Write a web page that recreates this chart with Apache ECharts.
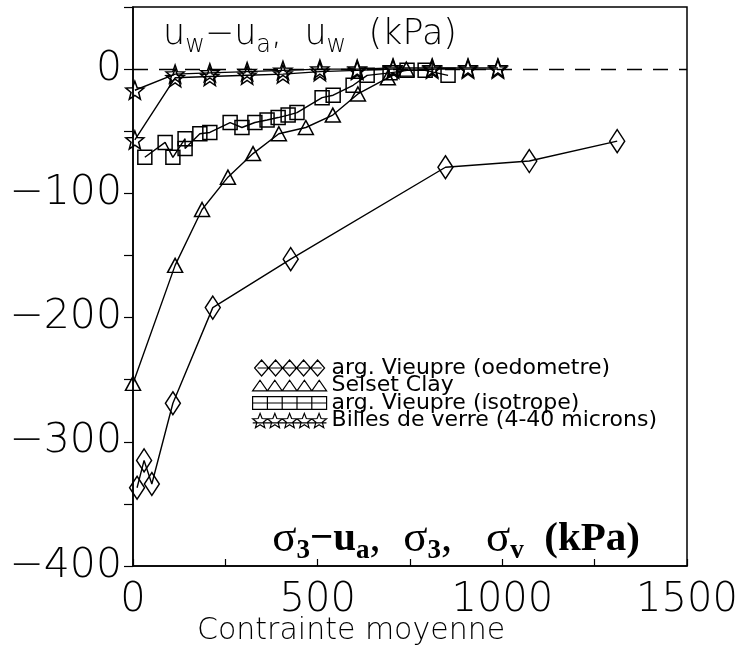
<!DOCTYPE html>
<html>
<head>
<meta charset="utf-8">
<script src="https://cdn.jsdelivr.net/npm/echarts@6/dist/echarts.min.js"></script>
<style>html,body{margin:0;padding:0;background:#fff}#c{width:737px;height:651px}</style>
</head>
<body>
<div id="c"></div>
<script>
// ---- data ----
const oedoX = [11, 30, 51, 108, 216, 427, 846, 1073, 1311];
const oedoY = [-337, -315, -334, -269, -192, -153, -79, -74, -58];

const selsetX = [0, 114, 187, 257, 325, 395, 468, 541, 609, 690, 740];
const selsetY = [-253, -158, -113, -87, -68, -52, -47, -37, -20, -7, 0];

const isoX = [32, 87, 108, 141, 141, 181, 208, 263, 295, 330, 363, 393, 420, 444, 512, 542, 596, 634, 696, 742, 791, 853];
const isoY = [-71, -59, -71, -56, -64, -52, -51, -43, -47, -43, -41, -39, -37, -35, -23, -21, -13, -5, -3, -1, -1, -5];

const billesAX = [5, 114, 208, 309, 406, 506, 607, 704, 810, 907, 988];
const billesAY = [-17, -4, -3, -2, -1, 0, 0, 1, 1, 1, 1];
const billesBX = [5, 114, 208, 309, 406, 506, 607, 704, 810, 907, 988];
const billesBY = [-57, -7, -6, -5, -4, -2, -1, 0, 0, 0, 0];

const names = ['arg. Vieupre (oedometre)', 'Selset Clay', 'arg. Vieupre (isotrope)', 'Billes de verre (4-40 microns)'];
const xTickLabels = [0, 500, 1000, 1500];
const yTickLabels = [-400, -300, -200, -100, 0];

// ---- styles ----
function starPts(cx, cy, R, r) {
  let s = '';
  for (let i = 0; i < 10; i++) {
    const a = -Math.PI / 2 + i * Math.PI / 5;
    const rad = i % 2 === 0 ? R : r;
    s += (i === 0 ? 'M' : 'L') + (cx + rad * Math.cos(a)).toFixed(2) + ',' + (cy + rad * Math.sin(a)).toFixed(2);
  }
  return s + 'Z';
}
const starSymbol = 'path://' + starPts(10, 10.5, 10, 4.2);
let starLegend = 'path://';
for (let i = 0; i < 5; i++) starLegend += starPts(7 + 14 * i, 7.5, 7.5, 3.2) + ' ';
starLegend += 'M0,9L70,9';
let diaLegend = 'path://';
for (let i = 0; i < 5; i++) { const o = 14 * i; diaLegend += `M${o},8L${o+7},0L${o+14},8L${o+7},16Z `; }
diaLegend += 'M3,8L67,8';
let triLegend = 'path://';
for (let i = 0; i < 5; i++) { const o = 14 * i; triLegend += `M${o},10L${o+7},0L${o+14},10Z `; }
triLegend += 'M0,10L70,10';
const sqLegend = 'path://M0,0L70,0L70,12L0,12Z M14,0L14,12 M28,0L28,12 M42,0L42,12 M56,0L56,12 M0,6L70,6';

const pair = (xs, ys) => xs.map((x, i) => [x, ys[i]]);
const AX = 'DejaVu Sans';

function mkSeries(name, xs, ys, symbol, size, extra) {
  return Object.assign({
    name: name, type: 'line', data: pair(xs, ys),
    symbol: symbol, symbolSize: size, symbolKeepAspect: false, showAllSymbol: true,
    lineStyle: { color: '#000', width: 1.4 },
    itemStyle: { color: 'rgba(0,0,0,0)', borderColor: '#000', borderWidth: 1.5 },
    emphasis: { disabled: true }, z: 3
  }, extra || {});
}

const chart = echarts.init(document.getElementById('c'), null, { renderer: 'canvas' });
const minus = v => v < 0 ? '\u2212' + (-v) : String(v);

chart.setOption({
  animation: false,
  backgroundColor: '#fff',
  grid: { left: 133, right: 50, top: 7, bottom: 85, outerBoundsMode: 'none', containLabel: false,
    show: true, borderColor: '#000', borderWidth: 1.5, backgroundColor: 'transparent' },
  xAxis: {
    type: 'value', min: 0, max: 1500, interval: 250,
    axisLine: { show: true, onZero: false, lineStyle: { color: '#000', width: 1.5 } },
    axisTick: { show: true, inside: true, length: 7, lineStyle: { color: '#000', width: 1.2 } },
    splitLine: { show: false },
    axisLabel: { margin: 15, color: '#000', fontFamily: AX, fontSize: 40, fontWeight: 200,
      formatter: v => xTickLabels.indexOf(v) >= 0 ? String(v) : '' }
  },
  yAxis: {
    type: 'value', min: -400, max: 50, interval: 50,
    axisLine: { show: true, onZero: false, lineStyle: { color: '#000', width: 1.5 } },
    axisTick: { show: true, inside: false, length: 9, lineStyle: { color: '#000', width: 1.2 } },
    splitLine: { show: false },
    axisLabel: { margin: 11, color: '#000', fontFamily: AX, fontSize: 41, fontWeight: 200,
      formatter: v => yTickLabels.indexOf(v) >= 0 ? minus(v) : '' }
  },
  legend: {
    orient: 'vertical', left: 247, top: 352, itemGap: -4.5, itemWidth: 74, itemHeight: 16, itemTextGap: 7,
    selectedMode: false,
    itemStyle: { color: 'rgba(0,0,0,0)', borderColor: '#000', borderWidth: 1.2 },
    textStyle: { color: '#000', fontFamily: AX, fontSize: 22 },
    data: [
      { name: names[0], icon: diaLegend },
      { name: names[1], icon: triLegend },
      { name: names[2], icon: sqLegend },
      { name: names[3], icon: starLegend }
    ]
  },
  graphic: [
    { type: 'text', left: 163, top: 17, z: 10,
      style: {
        text: '{m|u}{s|w}{m|\u2212u}{s|a}{m|,  u}{s|w}{m|  (kPa)}',
        rich: {
          m: { fontFamily: AX, fontSize: 35, fontWeight: 200, lineHeight: 46, fill: '#000' },
          s: { fontFamily: AX, fontSize: 24, fontWeight: 200, lineHeight: 22, verticalAlign: 'bottom', fill: '#000' }
        }
      } },
    { type: 'text', right: 97, top: 517, z: 10,
      style: {
        text: '{g|\u03c3}{b|3}{u|\u2212u}{b|a}{g|,  \u03c3}{b|3}{g|,   \u03c3}{b|v}{u|  (kPa)}',
        rich: {
          g: { fontFamily: 'Liberation Serif', fontSize: 45, lineHeight: 50, fill: '#000' },
          u: { fontFamily: 'Liberation Serif', fontSize: 41, fontWeight: 'bold', lineHeight: 50, fill: '#000' },
          b: { fontFamily: 'Liberation Serif', fontSize: 27, fontWeight: 'bold', lineHeight: 26, verticalAlign: 'bottom', fill: '#000' }
        }
      } },
    { type: 'text', left: 197, top: 616, z: 10,
      style: { text: 'Contrainte moyenne', fontFamily: AX, fontSize: 30, fontWeight: 200, fill: '#000' } }
  ],
  series: [
    mkSeries(names[0], oedoX, oedoY, 'diamond', [15, 23]),
    mkSeries(names[1], selsetX, selsetY, 'triangle', [15, 14]),
    mkSeries(names[2], isoX, isoY, 'rect', [14, 14]),
    mkSeries(names[3], billesAX, billesAY, starSymbol, [18, 18], {
      markLine: { silent: true, symbol: 'none', label: { show: false },
        lineStyle: { color: '#000', type: [15, 11], width: 1.3 }, data: [{ yAxis: 0 }] }
    }),
    mkSeries(names[3], billesBX, billesBY, starSymbol, [18, 18])
  ]
});
</script>
</body>
</html>
